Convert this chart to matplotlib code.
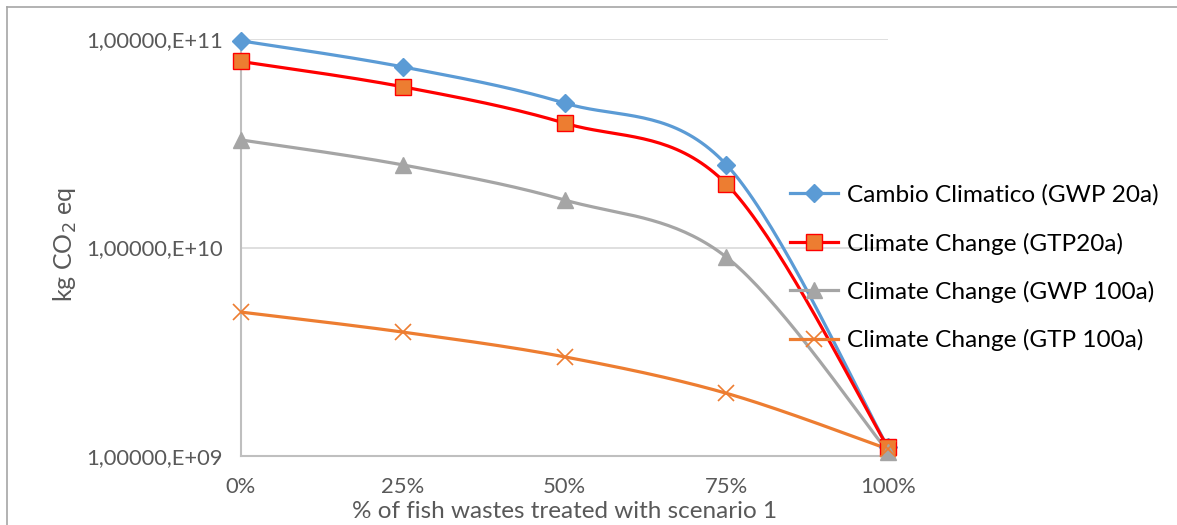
import numpy as np
import matplotlib
matplotlib.use("Agg")
import matplotlib.pyplot as plt
from matplotlib.lines import Line2D

plt.rcParams['font.family'] = ['Lato', 'DejaVu Sans']

categories = ["0%", "25%", "50%", "75%", "100%"]
series_names = [
    "Cambio Climatico (GWP 20a)",
    "Climate Change (GTP20a)",
    "Climate Change (GWP 100a)",
    "Climate Change (GTP 100a)",
]
gwp20 = [9.8e10, 7.35e10, 4.93e10, 2.5e10, 1.1e9]
gtp20 = [7.8e10, 5.9e10, 3.95e10, 2.02e10, 1.1e9]
gwp100 = [3.28e10, 2.49e10, 1.69e10, 9.0e9, 1.05e9]
gtp100 = [4.9e9, 3.93e9, 2.99e9, 2.0e9, 1.08e9]
ytick_values = [1e9, 1e10, 1e11]
ytick_labels = ["1,00000,E+09", "1,00000,E+10", "1,00000,E+11"]


def smooth(xs, ys, n=40):
    """Bezier smoothing through the points (in x / log10(y) space)."""
    xs = np.asarray(xs, float)
    ly = np.log10(np.asarray(ys, float))
    P = np.column_stack([xs, ly])
    m = len(P)
    out = []
    t = np.linspace(0, 1, n)[:, None]
    for i in range(m - 1):
        p0 = P[max(i - 1, 0)]
        p1 = P[i]
        p2 = P[i + 1]
        p3 = P[min(i + 2, m - 1)]
        c1 = p1 + (p2 - p0) / 6.0
        c2 = p2 - (p3 - p1) / 6.0
        seg = ((1 - t) ** 3) * p1 + 3 * ((1 - t) ** 2) * t * c1 \
            + 3 * (1 - t) * t ** 2 * c2 + t ** 3 * p2
        out.append(seg if i == 0 else seg[1:])
    out = np.vstack(out)
    return out[:, 0], 10 ** out[:, 1]


W, H = 1177, 525
fig = plt.figure(figsize=(W / 100, H / 100), dpi=100)
ax = fig.add_axes([241 / W, 1 - 456 / H, (888 - 241) / W, (456 - 39) / H])

x = np.arange(len(categories))

styles = [
    dict(data=gwp20, color="#5b9bd5", marker="D", ms=9, mfc="#5b9bd5", mec="#5b9bd5", mew=1),
    dict(data=gtp20, color="#ff0000", marker="s", ms=11, mfc="#ed7d31", mec="#ff0000", mew=1),
    dict(data=gwp100, color="#a5a5a5", marker="^", ms=11, mfc="#a5a5a5", mec="#a5a5a5", mew=1),
    dict(data=gtp100, color="#ed7d31", marker="x", ms=11, mfc="#ed7d31", mec="#ed7d31", mew=1.2),
]

handles = []
for name, st in zip(series_names, styles):
    sx, sy = smooth(x, st["data"])
    ax.plot(sx, sy, color=st["color"], lw=2.3, solid_capstyle="round", zorder=3)
    ax.plot(x, st["data"], ls="none", marker=st["marker"], ms=st["ms"],
            mfc=st["mfc"], mec=st["mec"], mew=st["mew"], zorder=4, clip_on=False)
    handles.append(Line2D([], [], color=st["color"], lw=2.3, marker=st["marker"],
                          ms=st["ms"], mfc=st["mfc"], mec=st["mec"], mew=st["mew"]))

ax.set_yscale("log")
ax.set_ylim(1e9, 1e11)
ax.set_xlim(0, 4)
ax.set_yticks(ytick_values)
ax.set_yticklabels(ytick_labels)
ax.yaxis.set_minor_locator(matplotlib.ticker.NullLocator())
ax.set_xticks(x)
ax.set_xticklabels(categories)
ax.tick_params(axis="both", length=0, labelsize=15.8, labelcolor="#595959")
ax.tick_params(axis="y", pad=13)
ax.tick_params(axis="x", pad=15)

ax.grid(axis="y", color="#d9d9d9", lw=1.2, zorder=0)
for side in ("top", "right"):
    ax.spines[side].set_visible(False)
ax.spines["left"].set_color("#bfbfbf")
ax.spines["left"].set_linewidth(1.5)
ax.spines["bottom"].set_color("#bfbfbf")
ax.spines["bottom"].set_linewidth(1.5)

fig.text(565 / W, 1 - 512 / H, "% of fish wastes treated with scenario 1",
         ha="center", va="center", fontsize=17.5, color="#595959")
fig.text(65 / W, 1 - 245 / H, "kg CO$_2$ eq", rotation=90, ha="center", va="center",
         fontsize=18, color="#595959")

leg = fig.legend(handles, series_names, loc="center left",
                 bbox_to_anchor=(790 / W, 1 - 268 / H), frameon=False,
                 fontsize=17.6, handlelength=1.97, handletextpad=0.37,
                 labelspacing=1.08, borderaxespad=0, borderpad=0)
for t in leg.get_texts():
    t.set_color("#000000")

# outer frame
fig.add_artist(Line2D([7 / W, 7 / W], [0, 1 - 7 / H], color="#a6a6a6", lw=1.2))
fig.add_artist(Line2D([7 / W, 1], [1 - 7 / H, 1 - 7 / H], color="#a6a6a6", lw=1.2))

fig.savefig("out.png", dpi=100)
